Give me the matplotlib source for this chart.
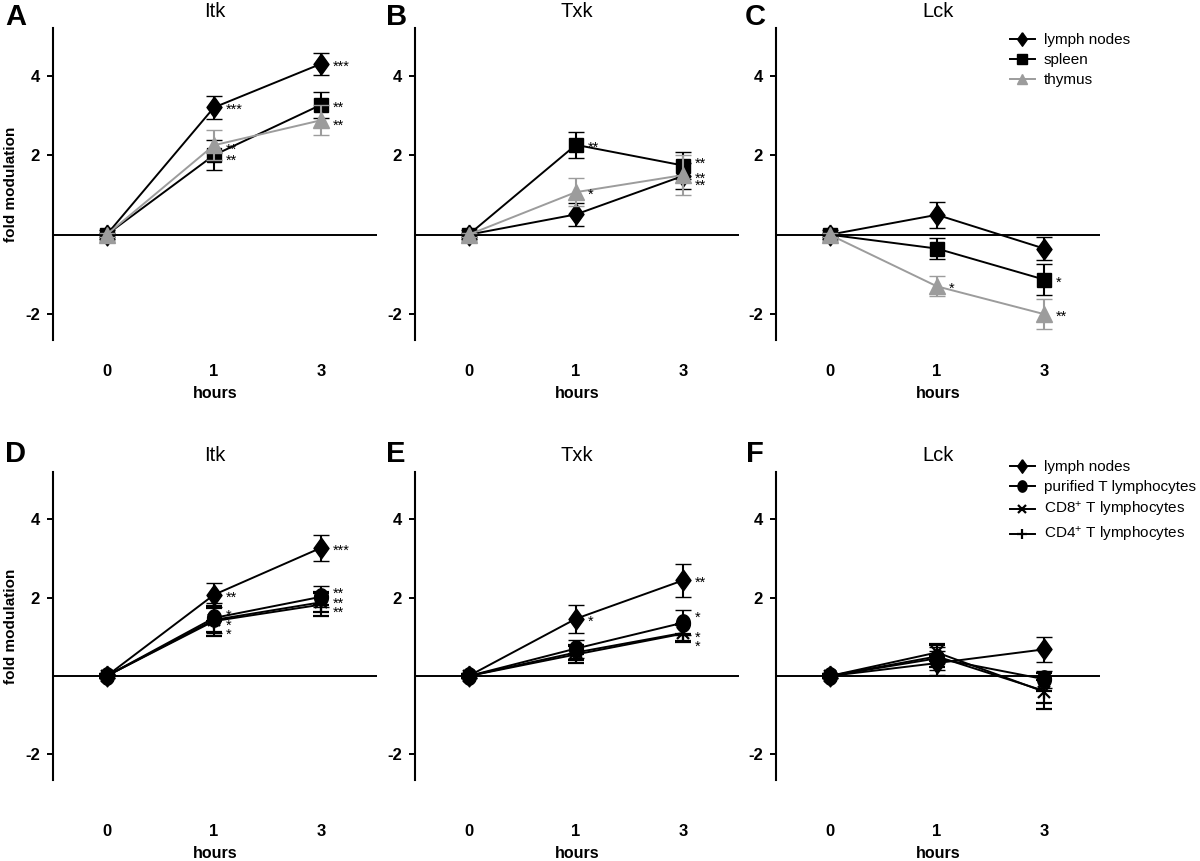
import numpy as np
import matplotlib
matplotlib.use('Agg')
import matplotlib.pyplot as plt
from matplotlib.lines import Line2D

plt.rcParams['font.family'] = ['Liberation Sans', 'DejaVu Sans']
plt.rcParams['mathtext.fontset'] = 'custom'
plt.rcParams['mathtext.rm'] = 'Liberation Sans'
plt.rcParams['mathtext.it'] = 'Liberation Sans:italic'
plt.rcParams['mathtext.bf'] = 'Liberation Sans:bold'

# ---------------- data ----------------
hours = ['0', '1', '3']
yticks = [-2, 2, 4]

top_series = ['lymph nodes', 'spleen', 'thymus']
bottom_series = ['lymph nodes', 'purified T lymphocytes',
                 'CD8$^{+}$ T lymphocytes', 'CD4$^{+}$ T lymphocytes']

# A  Itk (tissues)
a_lymph = [0, 3.20, 4.30]; a_lymph_err = [0.12, 0.28, 0.28]
a_spleen = [0, 2.00, 3.27]; a_spleen_err = [0.05, 0.38, 0.33]
a_thymus = [0, 2.25, 2.88]; a_thymus_err = [0.05, 0.38, 0.38]
# B  Txk (tissues)
b_lymph = [0, 0.51, 1.48]; b_lymph_err = [0.12, 0.28, 0.33]
b_spleen = [0, 2.26, 1.74]; b_spleen_err = [0.05, 0.32, 0.33]
b_thymus = [0, 1.07, 1.50]; b_thymus_err = [0.05, 0.36, 0.50]
# C  Lck (tissues)
c_lymph = [0, 0.50, -0.35]; c_lymph_err = [0.12, 0.33, 0.28]
c_spleen = [0, -0.35, -1.13]; c_spleen_err = [0.05, 0.26, 0.38]
c_thymus = [0, -1.30, -2.00]; c_thymus_err = [0.05, 0.25, 0.38]
# D  Itk (cell populations)
d_lymph = [0, 2.07, 3.27]; d_lymph_err = [0.05, 0.30, 0.33]
d_purified = [0, 1.48, 2.02]; d_purified_err = [0.05, 0.38, 0.27]
d_cd8 = [0, 1.43, 1.88]; d_cd8_err = [0.05, 0.30, 0.25]
d_cd4 = [0, 1.40, 1.82]; d_cd4_err = [0.05, 0.38, 0.30]
# E  Txk (cell populations)
e_lymph = [0, 1.46, 2.44]; e_lymph_err = [0.05, 0.36, 0.42]
e_purified = [0, 0.70, 1.36]; e_purified_err = [0.05, 0.23, 0.32]
e_cd8 = [0, 0.60, 1.10]; e_cd8_err = [0.05, 0.20, 0.22]
e_cd4 = [0, 0.55, 1.08]; e_cd4_err = [0.05, 0.22, 0.22]
# F  Lck (cell populations)
f_lymph = [0, 0.33, 0.68]; f_lymph_err = [0.05, 0.30, 0.32]
f_purified = [0, 0.45, -0.08]; f_purified_err = [0.05, 0.30, 0.22]
f_cd8 = [0, 0.60, -0.40]; f_cd8_err = [0.05, 0.22, 0.30]
f_cd4 = [0, 0.50, -0.38]; f_cd4_err = [0.05, 0.28, 0.45]

titles = ['Itk', 'Txk', 'Lck', 'Itk', 'Txk', 'Lck']
letters = ['A', 'B', 'C', 'D', 'E', 'F']

# significance labels: (series, hour index, label)
a_stars = [('lymph nodes', 1, '***'), ('lymph nodes', 2, '***'),
           ('spleen', 1, '**'), ('spleen', 2, '**'),
           ('thymus', 1, '**'), ('thymus', 2, '**')]
b_stars = [('spleen', 1, '**'), ('thymus', 1, '*'),
           ('spleen', 2, '**'), ('thymus', 2, '**'), ('lymph nodes', 2, '**')]
c_stars = [('thymus', 1, '*'), ('spleen', 2, '*'), ('thymus', 2, '**')]
d_stars = [('lymph nodes', 1, '**'), ('lymph nodes', 2, '***'),
           (bottom_series[1], 1, '*'), (bottom_series[2], 1, '*'), (bottom_series[3], 1, '*'),
           (bottom_series[1], 2, '**'), (bottom_series[2], 2, '**'), (bottom_series[3], 2, '**')]
e_stars = [('lymph nodes', 1, '*'), ('lymph nodes', 2, '**'),
           (bottom_series[1], 2, '*'), (bottom_series[2], 2, '*'), (bottom_series[3], 2, '*')]
f_stars = []

# --------------- layout / style ---------------
GRAY = '#9c9c9c'
diamond = [(0, 1), (0.72, 0), (0, -1), (-0.72, 0), (0, 1)]
_t = np.linspace(0, 2 * np.pi, 41)
ellipse = list(zip(0.8 * np.cos(_t), np.sin(_t)))

styles = {
    'lymph nodes': dict(marker=diamond, ms=15, color='black'),
    'spleen': dict(marker='s', ms=10.5, color='black'),
    'thymus': dict(marker='^', ms=12, color=GRAY),
    bottom_series[1]: dict(marker=ellipse, ms=12.5, color='black'),
    bottom_series[2]: dict(marker='x', ms=8, mew=1.6, color='black'),
    bottom_series[3]: dict(marker='+', ms=11, mew=1.6, color='black'),
}

# star vertical nudges (pixels, positive = down) to separate stacked labels
star_nudge = {
    ('B', 'spleen', 2): -5, ('B', 'thymus', 2): 1, ('B', 'lymph nodes', 2): 7,
    ('D', bottom_series[1], 1): -5, ('D', bottom_series[2], 1): 3, ('D', bottom_series[3], 1): 11,
    ('D', bottom_series[1], 2): -6, ('D', bottom_series[2], 2): -1, ('D', bottom_series[3], 2): 5,
    ('E', bottom_series[1], 2): -8, ('E', bottom_series[2], 2): 2, ('E', bottom_series[3], 2): 10,
    ('A', 'thymus', 1): 2, ('A', 'spleen', 1): 3, ('A', 'thymus', 2): 3,
}

panels = [
    ('A', top_series, [(a_lymph, a_lymph_err), (a_spleen, a_spleen_err), (a_thymus, a_thymus_err)], a_stars),
    ('B', top_series, [(b_lymph, b_lymph_err), (b_spleen, b_spleen_err), (b_thymus, b_thymus_err)], b_stars),
    ('C', top_series, [(c_lymph, c_lymph_err), (c_spleen, c_spleen_err), (c_thymus, c_thymus_err)], c_stars),
    ('D', bottom_series, [(d_lymph, d_lymph_err), (d_purified, d_purified_err), (d_cd8, d_cd8_err), (d_cd4, d_cd4_err)], d_stars),
    ('E', bottom_series, [(e_lymph, e_lymph_err), (e_purified, e_purified_err), (e_cd8, e_cd8_err), (e_cd4, e_cd4_err)], e_stars),
    ('F', bottom_series, [(f_lymph, f_lymph_err), (f_purified, f_purified_err), (f_cd8, f_cd8_err), (f_cd4, f_cd4_err)], f_stars),
]

W, H = 1200, 861
fig = plt.figure(figsize=(12, 8.61), dpi=100)
col_left = [53, 415, 776]
ax_w = 324
row_box = [(28, 340), (472, 780)]
xt_pad = [17, 32]
legend_top = [27, 454]
letter_pos = [(5, 25), (386, 25), (745, 25), (5, 462), (386, 462), (746, 462)]

x = np.arange(len(hours))
px2pt = 72 / 100

for i, (key, names, data, stars) in enumerate(panels):
    r, c = divmod(i, 3)
    top, bot = row_box[r]
    ax = fig.add_axes([col_left[c] / W, 1 - bot / H, ax_w / W, (bot - top) / H])
    ax.axhline(0, color='black', lw=1.4, zorder=1)
    order = list(range(len(names)))
    if r == 1:
        order = order[::-1]
    vals_by_name = {}
    for k in order:
        name = names[k]
        vals, errs = data[k]
        vals_by_name[name] = vals
        st = styles[name]
        col = st['color']
        ax.errorbar(x, vals, yerr=errs, color=col, lw=1.4, elinewidth=1.5,
                    capsize=6, capthick=1.7, marker=st['marker'], ms=st['ms'],
                    mfc=col, mec=col, mew=st.get('mew', 1.0),
                    zorder=3 + (k if r == 0 else len(names) - k))
    for name, hi, lab in stars:
        dy = star_nudge.get((key, name, hi), 0)
        ax.annotate(lab, (x[hi], vals_by_name[name][hi]), xytext=(8.5, -2.0 - dy * px2pt),
                    textcoords='offset points', ha='left', va='center',
                    fontsize=10.5, zorder=10)
    ax.set_xlim(-0.5, 2.52)
    ax.set_ylim(-2.65, 5.2)
    ax.set_xticks(x, hours, fontweight='bold', fontsize=12)
    ax.set_yticks(yticks, [str(t) for t in yticks], fontweight='bold', fontsize=12)
    ax.tick_params(axis='x', length=0, pad=xt_pad[r])
    ax.tick_params(axis='y', length=4.5, width=1.4, pad=5)
    for s in ['top', 'right', 'bottom']:
        ax.spines[s].set_visible(False)
    ax.spines['left'].set_linewidth(1.5)
    ax.set_xlabel('hours', fontweight='bold', fontsize=11.5, labelpad=5)
    if c == 0:
        fig.text(11 / W, 1 - (top + bot) / 2 / H, 'fold modulation', rotation=90,
                 ha='center', va='center', fontweight='bold', fontsize=11)
    ax.set_title(titles[i], fontsize=14.5, pad=8)
    lx, ly = letter_pos[i]
    fig.text(lx / W, 1 - ly / H, letters[i], fontsize=21, fontweight='bold', va='baseline')
    if c == 2:
        handles = []
        for name in names:
            st = styles[name]
            handles.append(Line2D([], [], color=st['color'], lw=1.4, marker=st['marker'],
                                  ms=st['ms'] * 0.65, mfc=st['color'], mec=st['color'],
                                  mew=st.get('mew', 1.0)))
        ax.legend(handles, names, loc='upper left',
                  bbox_to_anchor=(1004 / W, 1 - legend_top[r] / H), bbox_transform=fig.transFigure,
                  frameon=False, fontsize=11, handlelength=1.6, handletextpad=0.6,
                  labelspacing=0.4, borderaxespad=0)

fig.savefig('out.png', dpi=100)
